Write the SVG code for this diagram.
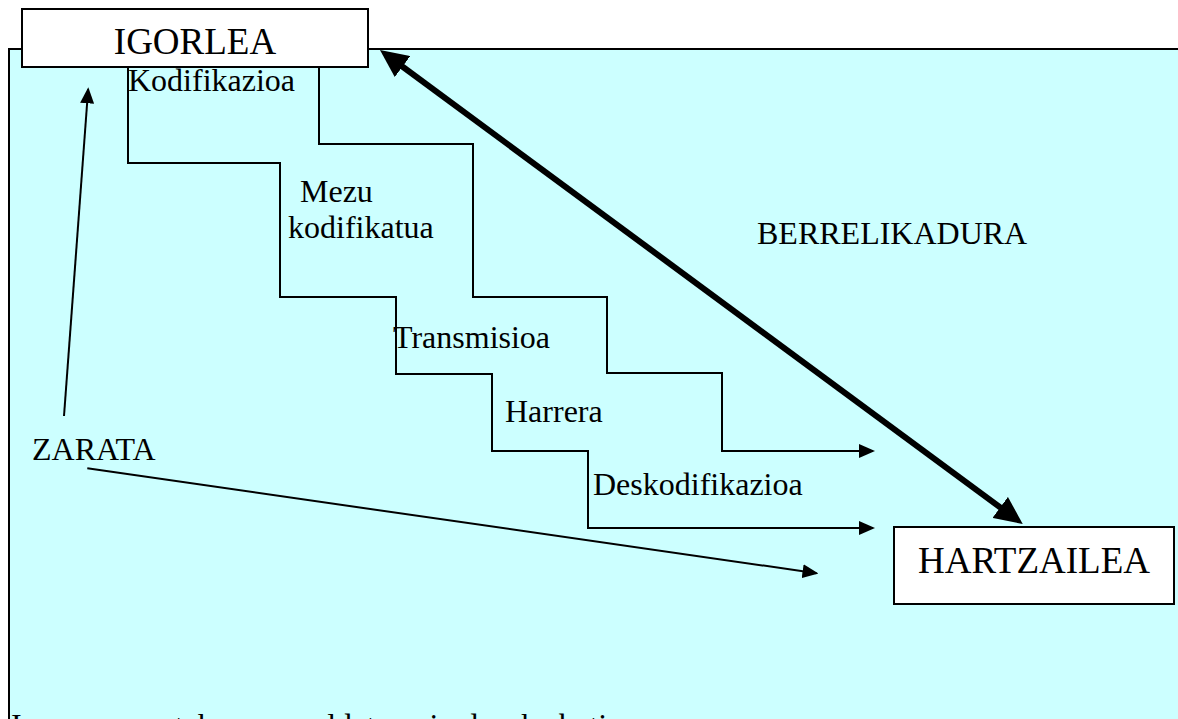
<svg xmlns="http://www.w3.org/2000/svg" width="1178" height="719" viewBox="0 0 1178 719">
  <style>
    .lbl { font-family: "Liberation Serif", "Times New Roman", serif; font-size: 32px; fill: #000; }
    .ttl { font-family: "Liberation Serif", "Times New Roman", serif; font-size: 37px; fill: #000; text-anchor: middle; }
    .box { fill: #fff; stroke: #000; stroke-width: 2; }
    .step { fill: none; stroke: #000; stroke-width: 2; }
    .thin { fill: none; stroke: #000; stroke-width: 2; marker-end: url(#arrow); }
    .thick { fill: none; stroke: #000; stroke-width: 6; marker-start: url(#bigArrow); marker-end: url(#bigArrow); }
  </style>
  <defs>
    <marker id="arrow" markerUnits="userSpaceOnUse" markerWidth="16" markerHeight="14" refX="14" refY="7" orient="auto">
      <path d="M0,0 L16,7 L0,14 Z" fill="#000"/>
    </marker>
    <marker id="bigArrow" markerUnits="userSpaceOnUse" markerWidth="28" markerHeight="26" refX="20" refY="13" orient="auto-start-reverse">
      <path d="M0,0 L28,13 L0,26 Z" fill="#000"/>
    </marker>
  </defs>

  <!-- page -->
  <rect x="0" y="0" width="1178" height="719" fill="#fff"/>
  <!-- cyan panel, running off the right and bottom edges -->
  <rect x="9" y="49" width="1200" height="720" fill="#ccffff" stroke="#000" stroke-width="2"/>

  <!-- connectors -->
  <g id="connectors">
    <!-- stepped process line, left side -->
    <path class="step" d="M128,67 V163 H280 V297 H396 V374 H492 V451 H588 V528 H873" marker-end="url(#arrow)"/>
    <!-- stepped process line, right side -->
    <path class="step" d="M319,67 V144 H473 V297 H607 V373 H722 V451 H873" marker-end="url(#arrow)"/>
    <!-- noise towards the sender -->
    <line class="thin" x1="64" y1="416" x2="88.15" y2="89.3"/>
    <!-- noise towards the receiver -->
    <line class="thin" x1="87.3" y1="468.3" x2="816.5" y2="573.2"/>
    <!-- feedback, two-way -->
    <line class="thick" x1="386.4" y1="54.75" x2="1016.3" y2="519.25"/>
  </g>

  <!-- sender -->
  <g id="igorlea">
    <rect class="box" x="22" y="9" width="346" height="58"/>
    <text class="ttl" x="195" y="54">IGORLEA</text>
  </g>

  <!-- receiver -->
  <g id="hartzailea">
    <rect class="box" x="894" y="527" width="280" height="77"/>
    <text class="ttl" x="1034" y="573">HARTZAILEA</text>
  </g>

  <!-- step labels -->
  <g id="labels">
    <text class="lbl" x="128" y="91">Kodifikazioa</text>
    <text class="lbl" x="300" y="202">Mezu</text>
    <text class="lbl" x="288" y="238">kodifikatua</text>
    <text class="lbl" x="393" y="348">Transmisioa</text>
    <text class="lbl" x="505" y="422">Harrera</text>
    <text class="lbl" x="593" y="495">Deskodifikazioa</text>
    <text class="lbl" x="757" y="244">BERRELIKADURA</text>
    <text class="lbl" x="32" y="460">ZARATA</text>
  </g>

  <!-- caption line, cut by the lower edge of the page -->
  <text class="lbl" x="11" y="736">Izan ere zaratak mezua aldatu egin dezake beti.</text>
</svg>
